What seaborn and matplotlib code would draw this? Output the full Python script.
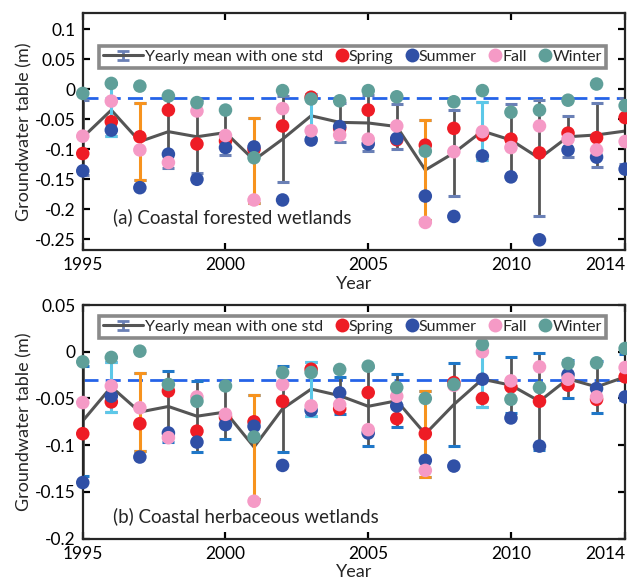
import matplotlib
matplotlib.use("Agg")
import matplotlib.pyplot as plt
import seaborn as sns
import pandas as pd
import numpy as np
from matplotlib.lines import Line2D
from matplotlib.legend_handler import HandlerErrorbar

# ---- data ----
years = list(range(1995, 2015))

# (a) coastal forested wetlands
spring_a = [-0.107, -0.054, -0.079, -0.0345, -0.091, -0.086, -0.100, -0.061, -0.013, -0.065,
            -0.0345, -0.084, -0.093, -0.065, -0.076, -0.083, -0.106, -0.073, -0.0805, -0.047]
summer_a = [-0.136, -0.068, -0.164, -0.108, -0.150, -0.097, -0.096, -0.1845, -0.0845, -0.062,
            -0.091, -0.082, -0.178, -0.212, -0.111, -0.146, -0.251, -0.101, -0.113, -0.133]
fall_a = [-0.078, -0.0195, -0.101, -0.122, -0.036, -0.077, -0.1845, -0.032, -0.069, -0.076,
          -0.083, -0.061, -0.222, -0.104, -0.0705, -0.097, -0.061, -0.083, -0.101, -0.087]
winter_a = [-0.0067, 0.010, 0.0055, -0.011, -0.022, -0.0345, -0.114, -0.002, -0.016, -0.019,
            -0.002, -0.0123, -0.103, -0.0206, -0.002, -0.038, -0.0345, -0.018, 0.009, -0.027]
mean_a = [-0.080, -0.0345, -0.087, -0.0705, -0.079, -0.072, -0.118, -0.083, -0.044, -0.055,
          -0.056, -0.062, -0.1345, -0.106, -0.0695, -0.0845, -0.115, -0.079, -0.076, -0.0695]
std_a = [0.062, 0.044, 0.065, 0.060, 0.061, 0.038, 0.071, 0.072, 0.037, 0.032,
         0.046, 0.037, 0.084, 0.072, 0.048, 0.060, 0.097, 0.034, 0.054, 0.055]
ref_a = -0.015

# (b) coastal herbaceous wetlands
spring_b = [-0.0877, -0.0537, -0.077, -0.042, -0.085, -0.070, -0.075, -0.053, -0.0187, -0.061,
            -0.0437, -0.0716, -0.0877, -0.033, -0.050, -0.0376, -0.053, -0.0358, -0.051, -0.0269]
summer_b = [-0.140, -0.0476, -0.1127, -0.087, -0.0967, -0.078, -0.0798, -0.1217, -0.0627, -0.044,
            -0.087, -0.058, -0.1163, -0.1224, -0.0294, -0.0709, -0.101, -0.0244, -0.0394, -0.0484]
fall_b = [-0.0544, -0.0366, -0.060, -0.092, -0.0484, -0.067, -0.160, -0.035, -0.058, -0.0566,
          -0.0834, -0.0476, -0.127, -0.036, 0.0, -0.0312, -0.0162, -0.0294, -0.0484, -0.0169]
winter_b = [-0.0108, -0.0061, 0.0006, -0.035, -0.053, -0.0366, -0.0913, -0.0222, -0.0222, -0.019,
            -0.0155, -0.0383, -0.050, -0.035, 0.0078, -0.0509, -0.0383, -0.0126, -0.0119, 0.0035]
mean_b = [-0.074, -0.0376, -0.0645, -0.0586, -0.069, -0.0645, -0.102, -0.061, -0.040, -0.047,
          -0.0584, -0.0525, -0.088, -0.0565, -0.0294, -0.0358, -0.053, -0.029, -0.0376, -0.027]
std_b = [0.0585, 0.027, 0.042, 0.038, 0.038, 0.029, 0.056, 0.046, 0.029, 0.020,
         0.042, 0.0285, 0.046, 0.0445, 0.030, 0.030, 0.052, 0.0205, 0.028, 0.025]
ref_b = -0.03

dry_years = [1997, 2001, 2007]
wet_years = [1996, 2003, 2009]

seasons = ["Spring", "Summer", "Fall", "Winter"]
season_colors = {"Spring": "#EE1C25", "Summer": "#3050A6", "Fall": "#F59AC6", "Winter": "#5F9F99"}
gray = "#555555"
orange = "#F7931E"
lightblue = "#5CC8E8"

sns.set_style("ticks")
plt.rcParams["font.family"] = ["Lato", "DejaVu Sans"]
plt.rcParams["axes.linewidth"] = 1.6


class WideErrHandler(HandlerErrorbar):
    # longer handle for the errorbar entry only
    def legend_artist(self, legend, orig_handle, fontsize, handlebox):
        handlebox.width = handlebox.width * 3.6
        return super().legend_artist(legend, orig_handle, fontsize, handlebox)


def panel(ax, sp, su, fa, wi, mean, std, ref, capcol, ylim, yticks, title, leg_y):
    ax.axhline(ref, color="#2563E8", lw=2, dashes=(5.4, 2.6), zorder=1)

    cont = ax.errorbar(years, mean, yerr=std, fmt="-", color=gray, ecolor=gray, lw=2.2,
                       elinewidth=2.0, capsize=4.5, capthick=2.2, zorder=2)
    for cap in cont[1]:
        cap.set_markeredgecolor(capcol)
        cap.set_markerfacecolor(capcol)

    for yrs, col in [(dry_years, orange), (wet_years, lightblue)]:
        idx = [years.index(y) for y in yrs]
        ax.errorbar([years[i] for i in idx], [mean[i] for i in idx],
                    yerr=[std[i] for i in idx], fmt="none", ecolor=col,
                    elinewidth=2.2, capsize=4.5, capthick=2.2, zorder=2.5)

    # legend proxy: gray line with a small bluish error symbol
    proxy = ax.errorbar([np.nan], [np.nan], yerr=[np.nan], fmt="-", color=gray, lw=2.2,
                        ecolor="#6A80B6", elinewidth=2.0, capsize=4.5, capthick=2.0)

    df = pd.DataFrame({"Year": years, "Spring": sp, "Summer": su, "Fall": fa, "Winter": wi})
    long = df.melt(id_vars="Year", var_name="Season", value_name="Depth")
    sns.scatterplot(data=long, x="Year", y="Depth", hue="Season", hue_order=seasons,
                    palette=season_colors, s=95, edgecolor="none", legend=False,
                    ax=ax, zorder=3, clip_on=False)

    ax.set_xlim(1995, 2014)
    ax.set_ylim(*ylim)
    ax.set_xticks([1995, 2000, 2005, 2010, 2014])
    ax.set_xticklabels(["1995", "2000", "2005", "2010", "2014"])
    ax.get_xticklabels()[-1].set_ha("right")
    ax.set_yticks(yticks)
    ax.set_yticklabels([("%g" % t) for t in yticks])
    ax.tick_params(direction="in", top=True, right=True, length=5, width=1.6,
                   labelsize=12.5, colors="black")
    ax.tick_params(axis="x", pad=5)
    ax.tick_params(axis="y", pad=5)
    ax.set_xlabel("Year", fontsize=13, labelpad=2)
    ax.set_ylabel("Groundwater table (m)", fontsize=13, labelpad=2)
    ax.text(0.056, title[1], title[0], transform=ax.transAxes, fontsize=13.5,
            va="center", ha="left")

    handles = [proxy] + [Line2D([], [], marker="o", ls="", color=season_colors[s],
                                 markersize=10, markeredgewidth=0) for s in seasons]
    leg = ax.legend(handles, ["Yearly mean with one std"] + seasons, ncol=5,
                    loc="center", bbox_to_anchor=(0.4975, leg_y), fontsize=11.5,
                    handlelength=0.7, handletextpad=0.1, columnspacing=0.8,
                    borderpad=0.25, borderaxespad=0, fancybox=False, framealpha=1,
                    edgecolor="#8A8A8A",
                    handler_map={type(proxy): WideErrHandler(yerr_size=0.3)})
    leg.get_frame().set_linewidth(2.6)
    leg.set_zorder(5)


fig = plt.figure(figsize=(6.27, 5.81), dpi=100)
ax1 = fig.add_axes([0.132, 0.5697, 0.865, 0.4074])
ax2 = fig.add_axes([0.132, 0.073, 0.865, 0.402])

panel(ax1, spring_a, summer_a, fall_a, winter_a, mean_a, std_a, ref_a, "#6A80B6",
      (-0.268, 0.127), [-0.25, -0.2, -0.15, -0.1, -0.05, 0, 0.05, 0.1],
      ("(a) Coastal forested wetlands", 0.139), 0.816)
panel(ax2, spring_b, summer_b, fall_b, winter_b, mean_b, std_b, ref_b, "#1F77C8",
      (-0.2, 0.05), [-0.2, -0.15, -0.1, -0.05, 0, 0.05],
      ("(b) Coastal herbaceous wetlands", 0.094), 0.906)

fig.savefig("out.png", dpi=100)
